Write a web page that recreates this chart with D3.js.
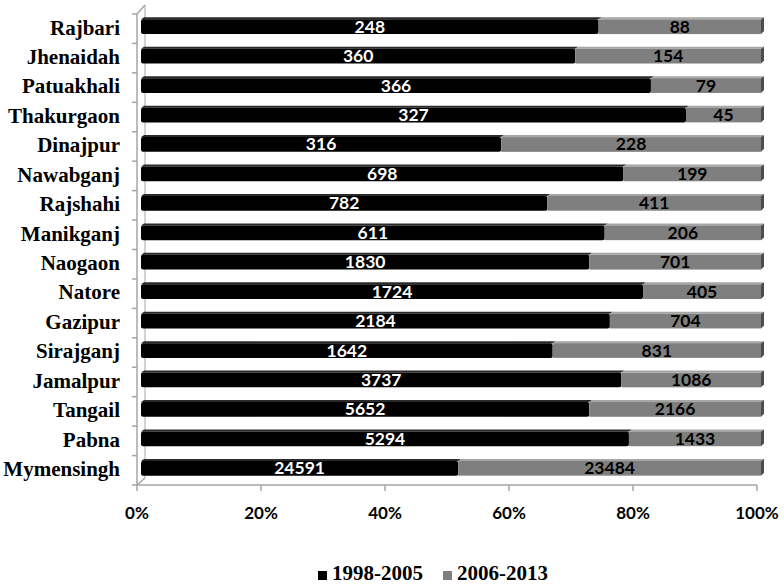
<!DOCTYPE html>
<html><head><meta charset="utf-8">
<script src="https://cdn.jsdelivr.net/npm/d3@7"></script>
<style>body{margin:0;background:#fff}</style>
</head><body>
<svg id="c" width="784" height="586"></svg>
<script>
const categories = ["Rajbari","Jhenaidah","Patuakhali","Thakurgaon","Dinajpur","Nawabganj","Rajshahi","Manikganj","Naogaon","Natore","Gazipur","Sirajganj","Jamalpur","Tangail","Pabna","Mymensingh"];
const series1998 = [248,360,366,327,316,698,782,611,1830,1724,2184,1642,3737,5652,5294,24591];
const series2006 = [88,154,79,45,228,199,411,206,701,405,704,831,1086,2166,1433,23484];
const seriesNames = ["1998-2005","2006-2013"];
const tickValues = [0,0.2,0.4,0.6,0.8,1];

const svg = d3.select("#c");
const x = d3.scaleLinear().domain([0,1]).range([137,757]);
const y = d3.scaleBand().domain(categories).range([14,485]).paddingInner(0.5).paddingOuter(0.25);
const d = 4;
const axisColor = "#a6a6a6";

// walls / axes
const g = svg.append("g");
g.append("line").attr("x1",137).attr("y1",14).attr("x2",137).attr("y2",485).attr("stroke",axisColor).attr("stroke-width",1.5);
g.append("line").attr("x1",137).attr("y1",14).attr("x2",137+8).attr("y2",5).attr("stroke",axisColor).attr("stroke-width",1.5);
g.append("line").attr("x1",145).attr("y1",5).attr("x2",145).attr("y2",478).attr("stroke",axisColor).attr("stroke-width",1);
g.append("line").attr("x1",137).attr("y1",485).attr("x2",145).attr("y2",478).attr("stroke",axisColor).attr("stroke-width",1.5);
g.append("line").attr("x1",137).attr("y1",485).attr("x2",757).attr("y2",485).attr("stroke",axisColor).attr("stroke-width",1.5);
d3.range(categories.length+1).forEach(i=>{
  const yy = 14 + i*(471/categories.length);
  g.append("line").attr("x1",132).attr("x2",137).attr("y1",yy).attr("y2",yy).attr("stroke",axisColor).attr("stroke-width",1.5);
});
tickValues.forEach(t=>{
  g.append("line").attr("x1",x(t)).attr("x2",x(t)).attr("y1",485).attr("y2",491).attr("stroke",axisColor).attr("stroke-width",1.5);
  g.append("text").attr("x",x(t)).attr("y",519).attr("text-anchor","middle")
   .attr("font-family","Lato, 'Open Sans', sans-serif").attr("font-weight","bold").attr("font-size",17)
   .text(d3.format(".0%")(t));
});

// category labels
categories.forEach(c=>{
  svg.append("text").attr("x",120).attr("y",y(c)+y.bandwidth()/2+1)
   .attr("text-anchor","end").attr("dominant-baseline","middle")
   .attr("font-family","'Liberation Serif','Times New Roman',serif").attr("font-weight","bold").attr("font-size",21)
   .text(c);
});

// bars
const colors = ["#000000","#7f7f7f"];
const topColors = ["#2a2a2a","#a6a6a6"];
categories.forEach((c,i)=>{
  const total = series1998[i]+series2006[i];
  const segs = [[0, series1998[i]/total, series1998[i]],[series1998[i]/total, 1, series2006[i]]];
  const yt = y(c)-d+2, h = y.bandwidth();
  segs.forEach((s,k)=>{
    const x0 = x(s[0])+d, x1 = x(s[1])+d;
    svg.append("polygon").attr("points",`${x0},${yt} ${x0+3},${yt-2} ${x1+3},${yt-2} ${x1},${yt}`).attr("fill",topColors[k]);
    svg.append("rect").attr("x",x0).attr("y",yt).attr("width",x1-x0).attr("height",h).attr("fill",colors[k]).attr("rx",k===0?2:0);
    if(k===1){
      svg.append("polygon").attr("points",`${x1},${yt} ${x1+3},${yt-2} ${x1+3},${yt+h-3} ${x1},${yt+h}`).attr("fill","#4d4d4d");
    }
    svg.append("text").attr("x",(x0+x1)/2).attr("y",yt+h/2+1.5).attr("text-anchor","middle").attr("dominant-baseline","middle")
      .attr("font-family","Lato, 'Open Sans', sans-serif").attr("font-weight","bold").attr("font-size",17.5)
      .attr("fill",k===0?"#fff":"#000").text(s[2]);
  });
});

// legend
const leg = svg.append("g");
const legItems = [{x:318,name:seriesNames[0],c:colors[0]},{x:443,name:seriesNames[1],c:colors[1]}];
legItems.forEach(l=>{
  leg.append("rect").attr("x",l.x).attr("y",571).attr("width",9).attr("height",9).attr("fill",l.c);
  leg.append("text").attr("x",l.x+14).attr("y",580)
   .attr("font-family","'Liberation Serif','Times New Roman',serif").attr("font-weight","bold").attr("font-size",21)
   .text(l.name);
});
</script>
</body></html>
